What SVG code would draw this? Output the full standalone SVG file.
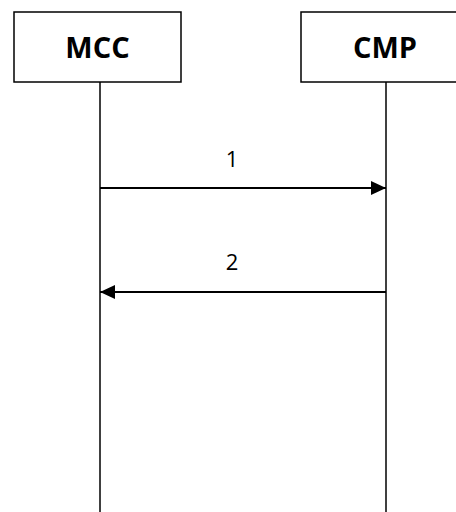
<svg xmlns="http://www.w3.org/2000/svg" width="456" height="512" viewBox="0 0 456 512">
<style>
.box{fill:#fff;stroke:#000;stroke-width:1.5}
.life{stroke:#000;stroke-width:1.5;fill:none}
.msg{stroke:#000;stroke-width:2;fill:none}
.title{font-family:"Open Sans","Liberation Sans",sans-serif;font-weight:bold;font-size:29px;text-anchor:middle}
.lbl{font-family:"Open Sans","Liberation Sans",sans-serif;font-size:22px;text-anchor:middle}
</style>
<defs>
<marker id="ah" markerWidth="16" markerHeight="14" refX="15" refY="7" orient="auto" markerUnits="userSpaceOnUse">
<path d="M0,0 L15,7 L0,14 Z" fill="#000"/>
</marker>
</defs>
<g id="mcc">
<rect class="box" x="14" y="12" width="167" height="70"/>
<text class="title" x="97.5" y="58">MCC</text>
<line class="life" x1="100" y1="82" x2="100" y2="512"/>
</g>
<g id="cmp">
<rect class="box" x="301" y="12" width="170" height="70"/>
<text class="title" x="385" y="58">CMP</text>
<line class="life" x1="386" y1="82" x2="386" y2="512"/>
</g>
<g id="connectors">
<line class="msg" x1="100" y1="188" x2="386" y2="188" marker-end="url(#ah)"/>
<text class="lbl" x="232" y="167">1</text>
<line class="msg" x1="386" y1="292" x2="100" y2="292" marker-end="url(#ah)"/>
<text class="lbl" x="232" y="270">2</text>
</g>
</svg>
